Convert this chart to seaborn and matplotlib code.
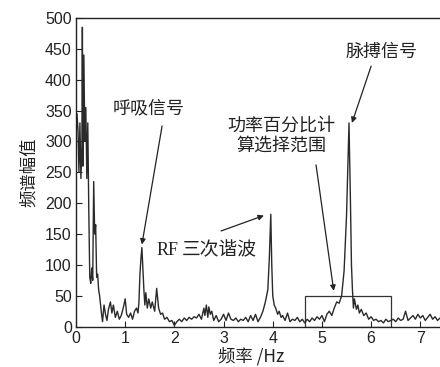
import matplotlib
matplotlib.use("Agg")
import matplotlib.pyplot as plt
import seaborn as sns
import pandas as pd
from matplotlib.patches import Rectangle

# ---- data ----
freq_low = [0.00, 0.02, 0.04, 0.06, 0.08, 0.10, 0.12, 0.13, 0.14, 0.16, 0.18, 0.20,
            0.22, 0.24, 0.26, 0.28, 0.30, 0.32, 0.34, 0.36, 0.38, 0.40, 0.42, 0.44,
            0.46, 0.48, 0.50, 0.52, 0.54]
amp_low = [300, 345, 320, 250, 330, 240, 290, 485, 260, 440, 300, 355,
           240, 330, 190, 80, 70, 95, 75, 235, 150, 165, 80, 85,
           60, 50, 35, 20, 8]

freq_mid = [0.57, 0.60, 0.63, 0.66, 0.70, 0.73, 0.76, 0.80, 0.84, 0.88, 0.92, 0.96,
            1.00, 1.03, 1.07, 1.11, 1.15, 1.19, 1.23, 1.26, 1.28, 1.30, 1.32, 1.34,
            1.36, 1.38, 1.40, 1.42, 1.45, 1.48, 1.52, 1.55, 1.60, 1.64, 1.68, 1.72,
            1.76, 1.80, 1.85, 1.90, 1.95, 2.00, 2.05, 2.10, 2.15, 2.20, 2.25, 2.30,
            2.35, 2.40, 2.45, 2.50, 2.55, 2.60, 2.62, 2.65, 2.68, 2.70, 2.73, 2.76,
            2.80, 2.85, 2.90, 2.95, 3.00, 3.05, 3.10, 3.15, 3.20, 3.25, 3.30, 3.35,
            3.40, 3.45, 3.50, 3.55, 3.60, 3.65, 3.70, 3.75]
amp_mid = [35, 20, 10, 28, 40, 22, 35, 15, 25, 12, 18, 30,
           45, 20, 15, 22, 12, 25, 30, 22, 40, 85, 110, 128,
           95, 60, 35, 55, 30, 45, 30, 40, 25, 62, 30, 20,
           22, 12, 15, 8, 10, 2, 8, 12, 8, 14, 10, 15,
           12, 16, 14, 20, 12, 30, 18, 35, 15, 32, 20, 25,
           10, 18, 8, 12, 20, 10, 22, 12, 10, 14, 8, 12,
           10, 15, 8, 18, 10, 20, 8, 15]

freq_high = [3.80, 3.85, 3.90, 3.93, 3.96, 3.98, 4.00, 4.03, 4.06, 4.10, 4.13, 4.17,
             4.20, 4.25, 4.30, 4.35, 4.40, 4.45, 4.50, 4.55, 4.60, 4.65, 4.70, 4.75,
             4.80, 4.85, 4.90, 4.95, 5.00, 5.05, 5.10, 5.15, 5.20, 5.25, 5.30, 5.35,
             5.40, 5.45, 5.50, 5.55, 5.58, 5.60, 5.62, 5.64, 5.66, 5.70, 5.73, 5.76,
             5.80, 5.85, 5.90, 5.95, 6.00, 6.05, 6.10, 6.15, 6.20, 6.25, 6.30, 6.35,
             6.40, 6.45, 6.50, 6.55, 6.60, 6.65, 6.70, 6.75, 6.80, 6.85, 6.90, 6.95,
             7.00, 7.05, 7.10, 7.15, 7.20, 7.25, 7.30, 7.35, 7.40]
amp_high = [25, 40, 60, 110, 182, 100, 50, 35, 30, 20, 25, 15,
            18, 10, 22, 8, 12, 10, 15, 8, 12, 6, 12, 8,
            14, 10, 16, 12, 18, 8, 20, 25, 18, 30, 40, 38,
            50, 90, 180, 330, 200, 100, 60, 30, 45, 28, 35, 22,
            28, 18, 22, 12, 16, 10, 12, 8, 10, 6, 12, 8,
            10, 12, 8, 14, 10, 12, 25, 10, 14, 18, 12, 20,
            14, 18, 10, 15, 20, 12, 16, 10, 14]

freq = freq_low + freq_mid + freq_high
amp = amp_low + amp_mid + amp_high

x_ticks = [0, 1, 2, 3, 4, 5, 6, 7]
y_ticks = [0, 50, 100, 150, 200, 250, 300, 350, 400, 450, 500]
box_range = (4.65, 6.40)
box_height = 50

df = pd.DataFrame({"freq": freq, "amp": amp})

sns.set_theme(style="ticks")
plt.rcParams['font.family'] = ['Liberation Sans', 'Noto Sans CJK SC', 'DejaVu Sans']

fig = plt.figure(figsize=(4.4, 3.67), dpi=100)
ax = fig.add_axes([0.1727, 0.110, 0.8273, 0.841])

sns.lineplot(data=df, x="freq", y="amp", ax=ax, estimator=None, sort=False,
             color="#2a2a2a", linewidth=1.0)

ax.set_xlim(0, 7.40)
ax.set_ylim(0, 500)
ax.set_xticks(x_ticks)
ax.set_yticks(y_ticks)
ax.tick_params(direction="in", length=4, width=0.8, labelsize=11.5,
               colors="#222222", pad=3)
for s in ["left", "bottom", "top"]:
    ax.spines[s].set_color("#222222")
    ax.spines[s].set_linewidth(1.0)
ax.spines["right"].set_visible(False)

cjk = ['Noto Sans CJK SC', 'DejaVu Sans']
ax.set_ylabel("频谱幅值", family=cjk, fontsize=12.5, color="#222222", labelpad=5)
ax.set_xlabel("")
fig.text(0.57, 0.005, "频率 /Hz", family=['Noto Sans CJK SC', 'Liberation Serif'],
         fontsize=12.5, color="#222222", ha="center", va="bottom")

# selection box
ax.add_patch(Rectangle((box_range[0], 0), box_range[1] - box_range[0], box_height,
                       fill=False, edgecolor="#333333", linewidth=0.9))

arrow = dict(arrowstyle="-|>", color="#222222", lw=0.9, mutation_scale=8,
             shrinkA=0, shrinkB=0)

fs = 13
ax.text(1.48, 354, "呼吸信号", family=cjk, fontsize=fs,
        ha="center", va="center", color="#222222")
ax.annotate("", xy=(1.34, 133), xytext=(1.75, 325), arrowprops=arrow)

ax.text(2.08, 124, "RF", family=['Liberation Serif'], fontsize=13,
        ha="right", va="center", color="#222222")
ax.text(2.16, 124, "三次谐波", family=cjk, fontsize=13.5,
        ha="left", va="center", color="#222222")
ax.annotate("", xy=(3.82, 180), xytext=(2.95, 155), arrowprops=arrow)

ax.text(4.17, 309, "功率百分比计\n算选择范围", family=cjk, fontsize=fs,
        ha="center", va="center", color="#222222", linespacing=1.15)
ax.annotate("", xy=(5.24, 58), xytext=(4.88, 262), arrowprops=arrow)

ax.text(6.21, 445, "脉搏信号", family=cjk, fontsize=fs,
        ha="center", va="center", color="#222222")
ax.annotate("", xy=(5.61, 330), xytext=(6.0, 422), arrowprops=arrow)

fig.savefig("out.png", dpi=100)
